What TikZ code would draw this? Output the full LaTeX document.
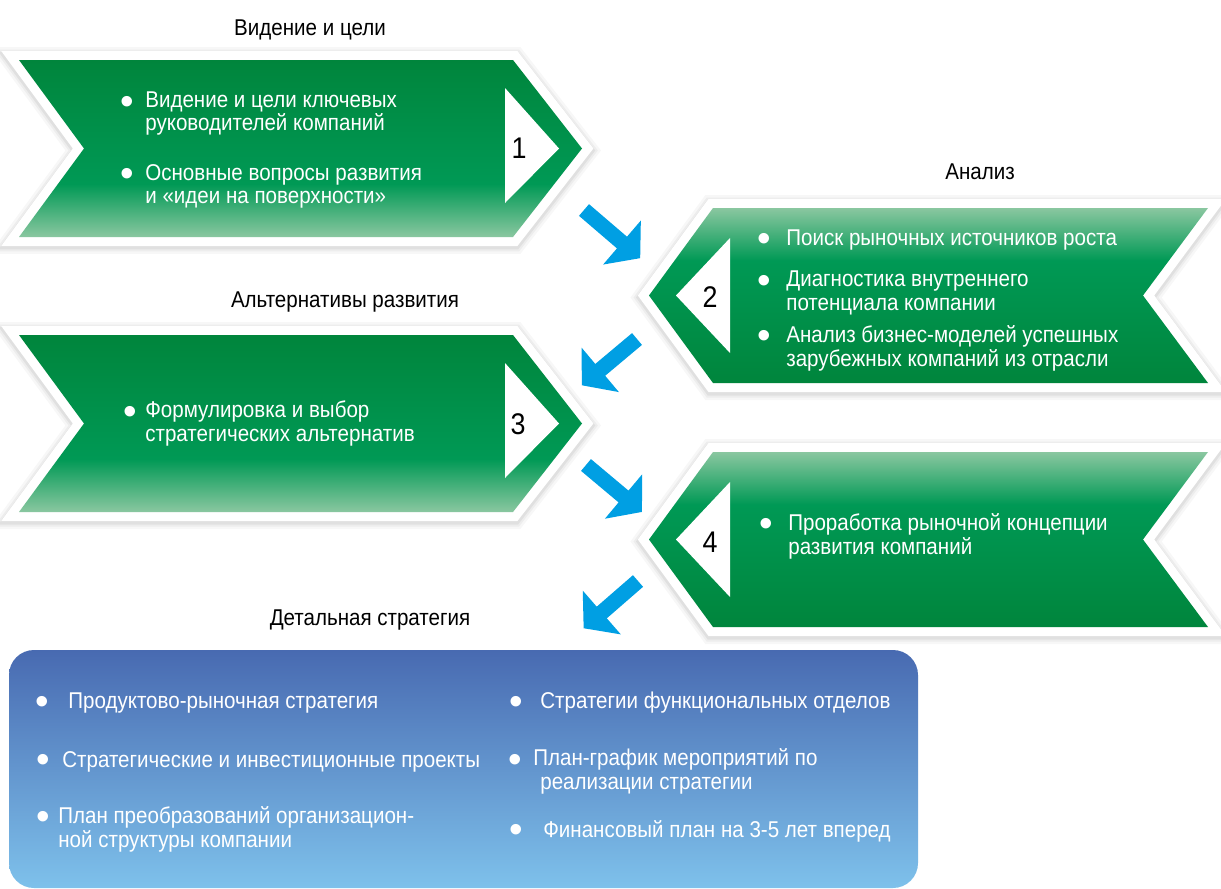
\documentclass[tikz,border=0pt]{standalone}
\usepackage{fontspec}
\setmainfont{Liberation Sans}[FakeStretch=0.9]
\newfontfamily\bulletfont{Liberation Sans}
\definecolor{gd}{RGB}{0,133,60}
\definecolor{gm}{RGB}{0,153,85}
\definecolor{gl}{RGB}{138,199,160}
\definecolor{arrowblue}{RGB}{0,159,227}
\definecolor{boxtop}{RGB}{72,106,177}
\definecolor{boxbot}{RGB}{126,193,235}
\pgfdeclareverticalshading{gLeft}{100bp}{color(0bp)=(gl); color(25bp)=(gl); color(40bp)=(gm); color(75bp)=(gd); color(100bp)=(gd)}
\pgfdeclareverticalshading{gRight}{100bp}{color(0bp)=(gd); color(25bp)=(gd); color(60bp)=(gm); color(75bp)=(gl); color(100bp)=(gl)}
\newcommand{\itemfont}{\fontsize{13}{13.3}\selectfont}
\newcommand{\leftchevron}[1]{%
  \begin{scope}[shift={(0,#1)}]
    \foreach \w/\o in {0.60/0.03,0.50/0.04,0.42/0.05}{%
      \draw[black, opacity=\o, line width=\w cm, line join=miter, yshift=-0.04cm]
        (19,0) -- (513,0) -- (582,88.5) -- (513,177) -- (19,177) -- (84,88.5) -- cycle;}
    \draw[white, fill=white, line width=0.36cm, line join=miter]
      (19,0) -- (513,0) -- (582,88.5) -- (513,177) -- (19,177) -- (84,88.5) -- cycle;
    \shade[shading=gLeft]
      (19,0) -- (513,0) -- (582,88.5) -- (513,177) -- (19,177) -- (84,88.5) -- cycle;
    \fill[white] (505,28) -- (505,143) -- (559,88.5) -- cycle;
  \end{scope}}
\newcommand{\rightchevron}[1]{%
  \begin{scope}[shift={(0,#1)}]
    \foreach \w/\o in {0.60/0.03,0.50/0.04,0.42/0.05}{%
      \draw[black, opacity=\o, line width=\w cm, line join=miter, yshift=-0.04cm]
        (713,0) -- (1208,0) -- (1143,87.5) -- (1208,175) -- (713,175) -- (649,87.5) -- cycle;}
    \draw[white, fill=white, line width=0.36cm, line join=miter]
      (713,0) -- (1208,0) -- (1143,87.5) -- (1208,175) -- (713,175) -- (649,87.5) -- cycle;
    \shade[shading=gRight]
      (713,0) -- (1208,0) -- (1143,87.5) -- (1208,175) -- (713,175) -- (649,87.5) -- cycle;
    \fill[white] (730,30) -- (730,145) -- (676,87.5) -- cycle;
  \end{scope}}
\newcommand{\bluearrow}[3]{%
  \begin{scope}[shift={(#1)}, rotate=#2]
    \fill[arrowblue] (0,-7.7) -- ({#3-24},-7.7) -- ({#3-24},-29) -- (#3,0)
      -- ({#3-24},29) -- ({#3-24},7.7) -- (0,7.7) -- cycle;
  \end{scope}}
\tikzset{
  itemtext/.style={text=white, font=\itemfont, anchor=base west, align=left, inner sep=0pt},
  bul/.style={text=white, font=\bulletfont\fontsize{22}{22}\selectfont, inner sep=0pt, yshift=-0.05cm},
  ttl/.style={text=black, font=\itemfont, anchor=base, inner sep=0pt},
  num/.style={text=black, font=\fontsize{17}{17}\selectfont, inner sep=0pt}
}
\begin{document}
\begin{tikzpicture}[x=0.02cm, y=-0.02cm]
\path[use as bounding box] (0,0) rectangle (1221,889);
\fill[white] (0,0) rectangle (1221,889);

% chevrons
\leftchevron{60}
\rightchevron{208}
\leftchevron{335}
\rightchevron{452}

% numbers
\node[num] (n1) at (519,148) {1};
\node[num] (n2) at (710,297) {2};
\node[num] (n3) at (518,424) {3};
\node[num] (n4) at (710,542) {4};

% titles
\node[ttl] (t1) at (310,35) {Видение и цели};
\node[ttl] (t2) at (980,179) {Анализ};
\node[ttl] (t3) at (345,307) {Альтернативы развития};
\node[ttl] (t5) at (370,625) {Детальная стратегия};

% blue arrows
\coordinate (a1s) at (584,210);
\coordinate (a2s) at (637,339);
\coordinate (a3s) at (586,465);
\coordinate (a4s) at (638,581);
\bluearrow{a1s}{-40.6}{74}
\bluearrow{a2s}{-140}{72}
\bluearrow{a3s}{-40}{73}
\bluearrow{a4s}{-139}{72}

% shape 1 texts (anchor = baseline of last line)
\node[bul] (b11) at (127,103) {•};
\node[itemtext] (x11) at (145,130.5) {Видение и цели ключевых\\руководителей компаний};
\node[bul] (b12) at (127,175) {•};
\node[itemtext] (x12) at (145,203.5) {Основные вопросы развития\\и «идеи на поверхности»};

% shape 2 texts
\node[bul] (b21) at (764.5,240) {•};
\node[itemtext] (x21) at (786,245) {Поиск рыночных источников роста};
\node[bul] (b22) at (764.5,281.5) {•};
\node[itemtext] (x22) at (786,310) {Диагностика внутреннего\\потенциала компании};
\node[bul] (b23) at (764.5,336.5) {•};
\node[itemtext] (x23) at (786,366) {Анализ бизнес-моделей успешных\\зарубежных компаний из отрасли};

% shape 3 text
\node[bul] (b31) at (130,413) {•};
\node[itemtext] (x31) at (145,441) {Формулировка и выбор\\стратегических альтернатив};

% shape 4 text
\node[bul] (b41) at (766,525) {•};
\node[itemtext] (x41) at (788,554) {Проработка рыночной концепции\\развития компаний};

% bottom box
\shade[top color=boxtop, bottom color=boxbot, rounded corners=0.5cm] (9,650) rectangle (918,888);
\node[bul] (b51) at (42,703) {•};
\node[itemtext] (x51) at (68,708) {Продуктово-рыночная стратегия};
\node[bul] (b52) at (43,761) {•};
\node[itemtext] (x52) at (62,767) {Стратегические и инвестиционные проекты};
\node[bul] (b53) at (43,818) {•};
\node[itemtext] (x53) at (58,847) {План преобразований организацион-\\ной структуры компании};
\node[bul] (b54) at (516,703) {•};
\node[itemtext] (x54) at (540,708) {Стратегии функциональных отделов};
\node[bul] (b55) at (515,761) {•};
\node[itemtext] (x55) at (533,789) {План-график мероприятий по\\\hspace*{0.14cm}реализации стратегии};
\node[bul] (b56) at (516,831) {•};
\node[itemtext] (x56) at (543,837) {Финансовый план на 3-5 лет вперед};
\end{tikzpicture}
\end{document}
